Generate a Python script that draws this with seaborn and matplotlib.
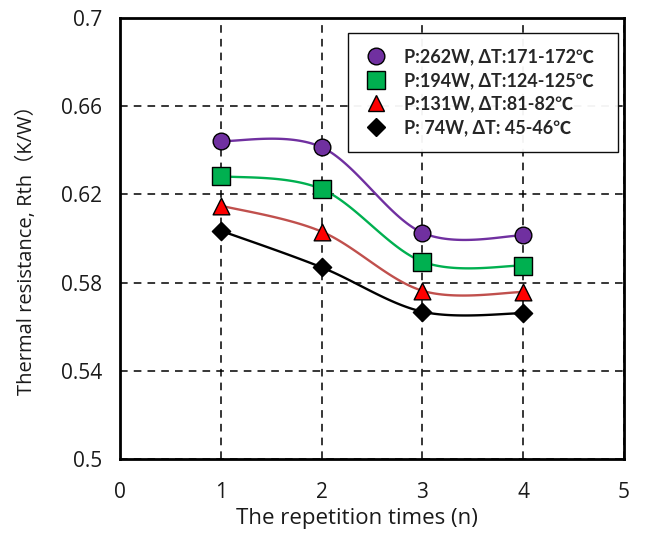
import numpy as np
import pandas as pd
import matplotlib
matplotlib.use("Agg")
import matplotlib.pyplot as plt
from matplotlib.lines import Line2D
import seaborn as sns

# Thermal resistance per repetition, one series per heating power
runs = [1, 2, 3, 4]
rth_262w = [0.6442, 0.6414, 0.6026, 0.6014]
rth_194w = [0.6283, 0.6224, 0.5895, 0.5877]
rth_131w = [0.6149, 0.6031, 0.5763, 0.5757]
rth_74w = [0.6035, 0.5869, 0.5668, 0.5661]

series_labels = [
    "P:262W, ΔT:171-172℃",
    "P:194W, ΔT:124-125℃",
    "P:131W, ΔT:81-82℃",
    "P: 74W, ΔT: 45-46℃",
]
x_ticks = [0, 1, 2, 3, 4, 5]
y_ticks = [0.5, 0.54, 0.58, 0.62, 0.66, 0.7]
y_tick_labels = ["0.5", "0.54", "0.58", "0.62", "0.66", "0.7"]

series_values = [rth_262w, rth_194w, rth_131w, rth_74w]
line_colors = ["#7030A0", "#00B050", "#C0504D", "#000000"]
fill_colors = ["#7030A0", "#00B050", "#FF0000", "#000000"]
markers = ["o", "s", "^", "D"]
marker_sizes = [12.0, 13.0, 12.0, 9.3]


def smooth_curve(xs, ys, n=40):
    """Cardinal (Catmull-Rom) Bezier smoothing through the data points."""
    p = np.column_stack([xs, ys]).astype(float)
    ext = np.vstack([p[0], p, p[-1]])
    pieces = []
    t = np.linspace(0, 1, n)[:, None]
    for i in range(len(p) - 1):
        p0, p1, p2, p3 = ext[i], ext[i + 1], ext[i + 2], ext[i + 3]
        c1 = p1 + (p2 - p0) / 6
        c2 = p2 - (p3 - p1) / 6
        seg = ((1 - t) ** 3 * p1 + 3 * (1 - t) ** 2 * t * c1
               + 3 * (1 - t) * t ** 2 * c2 + t ** 3 * p2)
        pieces.append(seg if i == 0 else seg[1:])
    return np.vstack(pieces)


sns.set_style("white")
plt.rcParams["font.family"] = ["Open Sans", "Noto Sans CJK JP", "DejaVu Sans"]

fig = plt.figure(figsize=(6.46, 5.36), dpi=100)
ax = fig.add_axes([0.186, 0.1437, 0.780, 0.8227])

# smoothed connecting curves
curve_frames = []
for label, vals in zip(series_labels, series_values):
    c = smooth_curve(runs, vals)
    curve_frames.append(pd.DataFrame({"n": c[:, 0], "rth": c[:, 1], "series": label}))
curves = pd.concat(curve_frames, ignore_index=True)
sns.lineplot(data=curves, x="n", y="rth", hue="series", palette=dict(zip(series_labels, line_colors)),
             sort=False, estimator=None, legend=False, linewidth=1.7, ax=ax, zorder=3)

# data markers
for label, vals, fc, mk, ms in zip(series_labels, series_values, fill_colors, markers, marker_sizes):
    pts = pd.DataFrame({"n": runs, "rth": vals})
    sns.scatterplot(data=pts, x="n", y="rth", marker=mk, s=ms ** 2, color=fc,
                    edgecolor="black", linewidth=1.0, ax=ax, zorder=4, legend=False)

ax.set_xlim(0, 5)
ax.set_ylim(0.5, 0.7)
ax.set_xticks(x_ticks)
ax.set_xticklabels([str(v) for v in x_ticks])
ax.set_yticks(y_ticks)
ax.set_yticklabels(y_tick_labels)
ax.tick_params(axis="both", length=0, labelsize=15, colors="#1a1a1a")
ax.tick_params(axis="y", pad=13)
ax.tick_params(axis="x", pad=16.5)

ax.grid(True, color="black", linestyle=(0, (5, 4)), linewidth=1.1)
ax.set_axisbelow(True)
for sp in ax.spines.values():
    sp.set_color("black")
    sp.set_linewidth(2.0)
    sp.set_zorder(6)

xl = ax.set_xlabel("The repetition times (n)", fontsize=16, color="#1a1a1a")
yl = ax.set_ylabel("Thermal resistance, Rth（K/W）", fontsize=14.5, color="#1a1a1a")
ax.xaxis.set_label_coords(0.470, -0.134)
ax.yaxis.set_label_coords(-0.1845, 0.485)
xl.set_va("center")
yl.set_va("center")

handles = [Line2D([], [], linestyle="none", marker=mk, markersize=ms, markerfacecolor=fc,
                  markeredgecolor="black", markeredgewidth=1.0)
           for fc, mk, ms in zip(fill_colors, markers, marker_sizes)]
leg = ax.legend(handles, series_labels, loc="upper left",
                bbox_to_anchor=(0.452, 0.694, 0.536, 0.272), mode="expand",
                prop={"family": ["Lato", "Noto Sans CJK JP"], "weight": "bold", "size": 13},
                frameon=True, fancybox=False, framealpha=0.95, edgecolor="black",
                borderpad=0.85, labelspacing=0.37, handletextpad=0.78, handlelength=1.45,
                borderaxespad=0)
leg.get_frame().set_linewidth(1.0)
leg.set_zorder(7)

fig.savefig("out.png", dpi=100)
